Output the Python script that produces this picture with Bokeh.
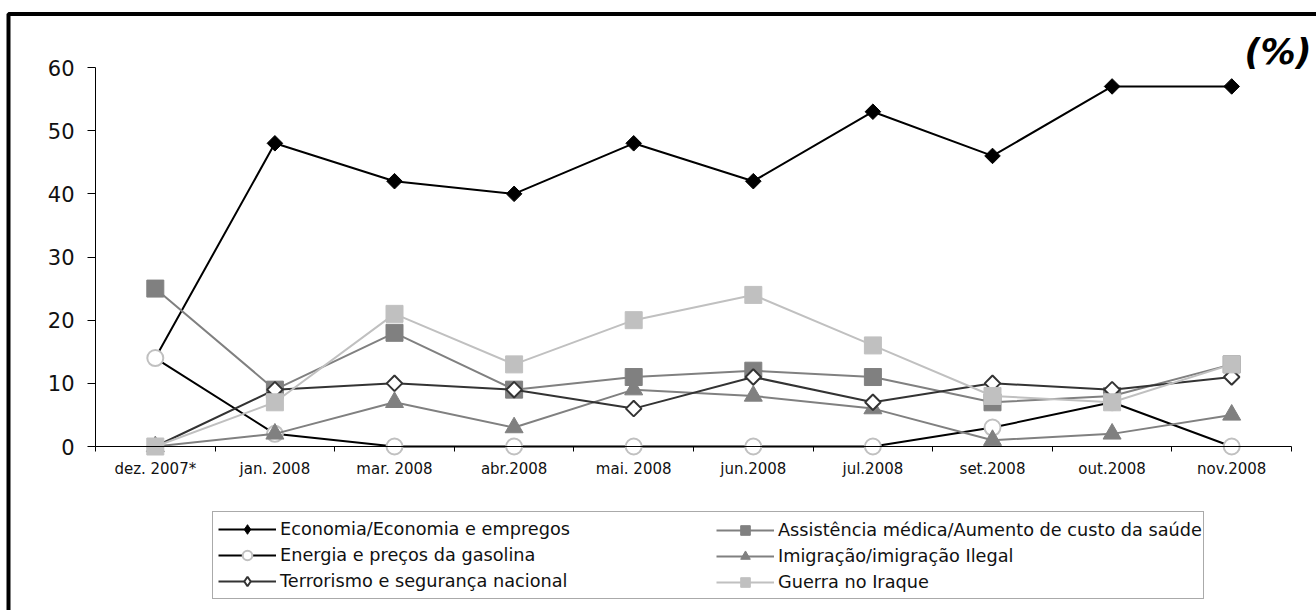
from bokeh.plotting import figure
from bokeh.models import Range1d, FixedTicker, Legend, LegendItem, Label, BoxAnnotation
from bokeh.embed import file_html
from bokeh.resources import INLINE
import math

categories = ["dez. 2007*", "jan. 2008", "mar. 2008", "abr.2008", "mai. 2008",
              "jun.2008", "jul.2008", "set.2008", "out.2008", "nov.2008"]
economia = [14, 48, 42, 40, 48, 42, 53, 46, 57, 57]
assistencia = [25, 9, 18, 9, 11, 12, 11, 7, 8, 13]
energia = [14, 2, 0, 0, 0, 0, 0, 3, 7, 0]
imigracao = [0, 2, 7, 3, 9, 8, 6, 1, 2, 5]
terrorismo = [0, 9, 10, 9, 6, 11, 7, 10, 9, 11]
guerra = [0, 7, 21, 13, 20, 24, 16, 8, 7, 13]
y_ticks = [0, 10, 20, 30, 40, 50, 60]

names = ["Economia/Economia e empregos",
         "Assistência médica/Aumento de custo da saúde",
         "Energia e preços da gasolina",
         "Imigração/imigração Ilegal",
         "Terrorismo e segurança nacional",
         "Guerra no Iraque"]

n = len(categories)
xc = [i + 0.5 for i in range(n)]
Y_MAX = y_ticks[-1]

# layout (canvas pixels)
W, H = 1316, 610
X0_PX, X1_PX = 95, 1291      # x axis start / end
Y0_PX, YT_PX = 446, 67       # y = 0 / y = top tick
sx = (X1_PX - X0_PX) / n
sy = (Y0_PX - YT_PX) / Y_MAX
x_range = Range1d(-X0_PX / sx, n + (W - X1_PX) / sx)
y_range = Range1d(-(H - Y0_PX) / sy, Y_MAX + YT_PX / sy)

p = figure(width=W, height=H, output_backend="svg", toolbar_location=None,
           x_range=x_range, y_range=y_range,
           min_border_left=0, min_border_right=0, min_border_top=0, min_border_bottom=0)
p.title.visible = False
p.outline_line_color = None
p.xgrid.visible = False
p.ygrid.visible = False
p.background_fill_color = "white"
p.border_fill_color = "white"

FONT = "DejaVu Sans"

# x axis
p.xaxis.fixed_location = 0
p.xaxis.bounds = (0, n)
p.xaxis.ticker = FixedTicker(ticks=xc, minor_ticks=list(range(n + 1)))
p.xaxis.major_label_overrides = {x: c for x, c in zip(xc, categories)}
p.xaxis.major_tick_out = 0
p.xaxis.major_tick_in = 0
p.xaxis.minor_tick_out = 5
p.xaxis.minor_tick_in = 0
p.xaxis.minor_tick_line_color = "black"
p.xaxis.axis_line_color = "black"
p.xaxis.major_label_text_font = FONT
p.xaxis.major_label_text_font_size = "15px"
p.xaxis.major_label_text_color = "#111111"
p.xaxis.major_label_standoff = 8

# y axis
p.yaxis.fixed_location = 0
p.yaxis.bounds = (0, Y_MAX)
p.yaxis.ticker = FixedTicker(ticks=y_ticks)
p.yaxis.major_tick_out = 8
p.yaxis.major_tick_in = 0
p.yaxis.minor_tick_out = 0
p.yaxis.minor_tick_in = 0
p.yaxis.axis_line_color = "black"
p.yaxis.major_tick_line_color = "black"
p.yaxis.major_label_text_font = FONT
p.yaxis.major_label_text_font_size = "21px"
p.yaxis.major_label_text_color = "#111111"
p.yaxis.major_label_standoff = 13

# chart-area frame (left and top edges visible in the window)
p.add_layout(BoxAnnotation(left=8, right=W + 200, top=H - 13.5, bottom=-200,
                           left_units="screen", right_units="screen",
                           top_units="screen", bottom_units="screen",
                           fill_alpha=0, line_color="black", line_width=4, line_alpha=1))

diamond_angle = math.pi / 4

series = [
    (economia, dict(line_color="black"),
     dict(marker="square", size=11, angle=diamond_angle, fill_color="black", line_color="black", line_width=1)),
    (assistencia, dict(line_color="#808080"),
     dict(marker="square", size=17, fill_color="#808080", line_color="#808080", line_width=1)),
    (energia, dict(line_color="black"),
     dict(marker="circle", size=16, fill_color="white", line_color="#c0c0c0", line_width=2)),
    (imigracao, dict(line_color="#808080"),
     dict(marker="triangle", size=18, fill_color="#808080", line_color="#808080", line_width=1)),
    (terrorismo, dict(line_color="#333333"),
     dict(marker="square", size=11, angle=diamond_angle, fill_color="white", line_color="#333333", line_width=2)),
    (guerra, dict(line_color="#c0c0c0"),
     dict(marker="square", size=17, fill_color="#c0c0c0", line_color="#c0c0c0", line_width=1)),
]

items = []
for (vals, lkw, mkw), name in zip(series, names):
    lr = p.line(xc, vals, line_width=2, **lkw)
    sr = p.scatter(xc, vals, **mkw)
    if mkw.get("angle"):
        # legend swatch: the legend ignores marker angle, so use an (unshown) diamond marker
        lk = {k: v for k, v in mkw.items() if k not in ("angle", "marker", "size")}
        sr = p.scatter(xc, vals, marker="diamond", size=mkw["size"], visible=False, **lk)
    items.append(LegendItem(label=name, renderers=[lr, sr]))

common = dict(glyph_width=58, glyph_height=24, label_height=24, label_standoff=4,
              spacing=2, padding=5, margin=0, inactive_fill_alpha=0,
              label_text_font=FONT, label_text_font_size="17.7px", label_text_color="#111111")

left_items = [items[0], items[2], items[4]]
right_items = [items[1], items[3], items[5]]

leg_left = Legend(items=left_items, location=(212, 11), label_width=918,
                  border_line_color="#555555", border_line_width=1,
                  background_fill_color="white", background_fill_alpha=1.0, **common)
leg_right = Legend(items=right_items, location=(711, 11),
                   border_line_alpha=0, background_fill_alpha=0, **common)
p.add_layout(leg_left, "center")
p.add_layout(leg_right, "center")

p.add_layout(Label(x=1311, y=H - 51, x_units="screen", y_units="screen", text="(%)",
                   text_align="right", text_baseline="middle", text_font=FONT,
                   text_font_size="35px", text_font_style="bold italic", text_color="black"))

open("out.html", "w").write(file_html(p, INLINE))
